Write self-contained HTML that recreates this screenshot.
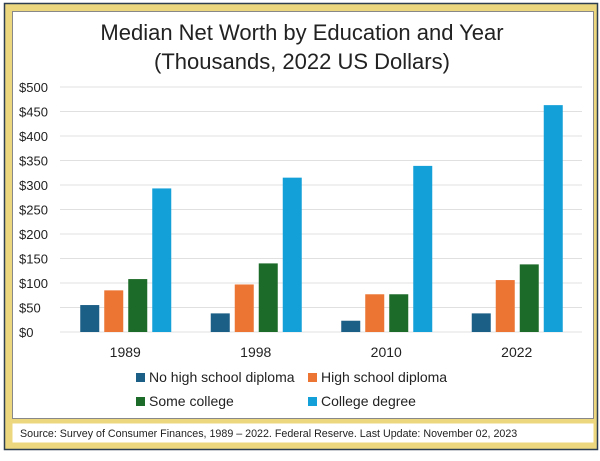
<!DOCTYPE html>
<html><head><meta charset="utf-8"><style>
body{margin:0;width:600px;height:456px;background:#fff;font-family:"Liberation Sans",sans-serif;overflow:hidden}
</style></head><body>
<svg width="600" height="456" xmlns="http://www.w3.org/2000/svg">
<rect x="4.5" y="3.5" width="593" height="446" fill="#ecd77e" stroke="#2c3e50" stroke-width="1.5"/>
<rect x="12.5" y="11.5" width="581" height="407" fill="#fff" stroke="#888" stroke-width="1"/>
<rect x="12.5" y="423.5" width="581" height="19" fill="#fff"/>
<text x="20" y="437" font-size="10.7" fill="#222">Source: Survey of Consumer Finances, 1989 – 2022. Federal Reserve. Last Update: November 02, 2023</text>
<text x="302" y="40" font-size="22" text-anchor="middle" fill="#222">Median Net Worth by Education and Year</text>
<text x="302" y="69" font-size="22" text-anchor="middle" fill="#222">(Thousands, 2022 US Dollars)</text>
<g id="grid"></g><g id="bars"></g><g id="xl"></g>
<g>
<rect x="136" y="373" width="9" height="9" fill="#1b5f86"/>
<text x="149" y="382" font-size="14" fill="#222">No high school diploma</text>
<rect x="308" y="373" width="9" height="9" fill="#ec7534"/>
<text x="321" y="382" font-size="14" fill="#222">High school diploma</text>
<rect x="136" y="397" width="9" height="9" fill="#1c6b28"/>
<text x="149" y="406" font-size="14" fill="#222">Some college</text>
<rect x="308" y="397" width="9" height="9" fill="#139fd8"/>
<text x="321" y="406" font-size="14" fill="#222">College degree</text>
</g>
</svg>
<script>
const categories=["1989","1998","2010","2022"];
const noHS=[55,38,23,38];
const hs=[85,97,77,106];
const someCollege=[108,140,77,138];
const college=[293,315,339,463];
const ticks=[0,50,100,150,200,250,300,350,400,450,500];
const tickLabels=["$0","$50","$100","$150","$200","$250","$300","$350","$400","$450","$500"];
const NS="http://www.w3.org/2000/svg";
const x0=60,x1=582,y0=332,yTop=87,max=500;
const y=v=>y0-(v/max)*(y0-yTop);
const gw=(x1-x0)/categories.length;
const series=[noHS,hs,someCollege,college];
const colors=["#1b5f86","#ec7534","#1c6b28","#139fd8"];
const names=["no-hs","hs","some-college","college"];
function mk(t,a,p){const e=document.createElementNS(NS,t);for(const k in a)e.setAttribute(k,a[k]);p.appendChild(e);return e;}
const grid=document.getElementById('grid');
ticks.forEach((t,i)=>{
 const l=mk('line',{x1:x0,x2:x1,y1:y(t),y2:y(t),stroke:'#e0e0e0','stroke-width':1},grid);
 
 
 const tx=mk('text',{x:19,y:y(t)+5,'font-size':13,fill:'#222'},grid);
 tx.textContent=tickLabels[i];
 
 
});
const bars=document.getElementById('bars'),xl=document.getElementById('xl');
categories.forEach((c,i)=>{
 const cx=x0+gw*(i+0.5);
 series.forEach((s,j)=>{
  const bx=cx-45+j*24;
  const r=mk('rect',{x:bx,y:y(s[i]),width:19,height:y0-y(s[i]),fill:colors[j]},bars);
  
  
 });
 const t=mk('text',{x:cx,y:357,'font-size':14,'text-anchor':'middle',fill:'#222'},xl);
 t.textContent=c;
 
 
});
</script>
</body></html>
